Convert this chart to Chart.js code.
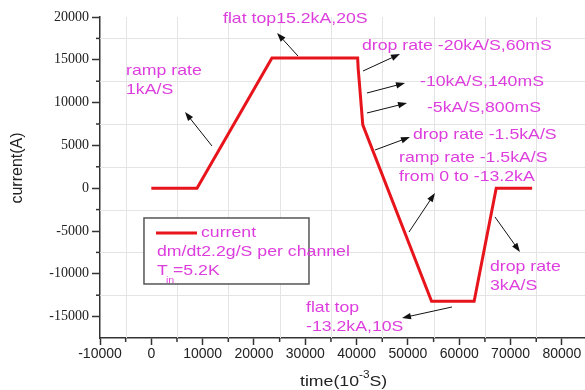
<!DOCTYPE html>
<html><head><meta charset="utf-8">
<script src="https://cdn.jsdelivr.net/npm/chart.js@4/dist/chart.umd.min.js"></script>
<style>html,body{margin:0;padding:0;background:#fff;}</style>
</head><body>
<canvas id="c" width="585" height="390"></canvas>
<script>
// ---- data ----
const timeMs   = [0, 8900, 23500, 40200, 40300, 40500, 41200, 54600, 62900, 67200, 74200];
const currentA = [0, 0, 15200, 15200, 14000, 12600, 7400, -13200, -13200, 0, 0];
const xTicks = [-10000, 0, 10000, 20000, 30000, 40000, 50000, 60000, 70000, 80000];
const yTicks = [-15000, -10000, -5000, 0, 5000, 10000, 15000, 20000];
const xMinor = [-5000, 5000, 15000, 25000, 35000, 45000, 55000, 65000, 75000];
const yMinor = [-12500, -7500, -2500, 2500, 7500, 12500, 17500];

// annotation texts (data coordinates of left/middle)
const notes = [
  ['flat top15.2kA,20S', 13970, 19770],
  ['drop rate -20kA/S,60mS', 41050, 16610],
  ['-10kA/S,140mS', 52350, 12400],
  ['-5kA/S,800mS', 53710, 9370],
  ['drop rate -1.5kA/S', 50980, 6215],
  ['ramp rate -1.5kA/S', 48260, 3530],
  ['from 0 to -13.2kA', 48260, 1310],
  ['drop rate', 65990, -9205],
  ['3kA/S', 65990, -11425],
  ['flat top', 30140, -13995],
  ['-13.2kA,10S', 30140, -16215],
  ['ramp rate', -4930, 13690],
  ['1kA/S', -4930, 11470]
];
// arrows: tail x,y -> head x,y (data coordinates)
const arrows = [
  [28580, 15440, 24490, 18130],
  [41240, 13690, 48450, 15680],
  [42020, 11120, 49430, 12290],
  [42020, 8785, 49820, 9950],
  [43580, 4460, 50400, 5980],
  [50210, -5120, 55270, -560],
  [66960, -3360, 71830, -7450],
  [58580, -13880, 48840, -15160],
  [11820, 4930, 6560, 8900]
];
const legendBox = [-1430, -3480, 30720, -11190];

const MAG = '#dd3ddd';
const SX = 1.18;
function txt(ctx, s, px, py, size, color){
  ctx.save(); ctx.translate(px, py); ctx.scale(SX, 1);
  ctx.font = size + 'px "Liberation Sans", Arial, sans-serif';
  ctx.textBaseline = 'middle'; ctx.textAlign = 'left';
  ctx.fillStyle = color; ctx.fillText(s, 0, 0);
  const w = ctx.measureText(s).width * SX;
  ctx.restore();
  return w;
}
function arrow(ctx, x1, y1, x2, y2){
  const ang = Math.atan2(y2 - y1, x2 - x1), L = 9, H = 3.2;
  ctx.save(); ctx.strokeStyle = '#111'; ctx.fillStyle = '#111'; ctx.lineWidth = 1;
  ctx.beginPath(); ctx.moveTo(x1, y1);
  ctx.lineTo(x2 - Math.cos(ang) * L * 0.8, y2 - Math.sin(ang) * L * 0.8); ctx.stroke();
  ctx.beginPath(); ctx.moveTo(x2, y2);
  ctx.lineTo(x2 - Math.cos(ang) * L + Math.sin(ang) * H, y2 - Math.sin(ang) * L - Math.cos(ang) * H);
  ctx.lineTo(x2 - Math.cos(ang) * L - Math.sin(ang) * H, y2 - Math.sin(ang) * L + Math.cos(ang) * H);
  ctx.closePath(); ctx.fill(); ctx.restore();
}

const decor = {
  id: 'decor',
  beforeDatasetsDraw(chart){
    const {ctx, chartArea: a, scales: {x, y}} = chart;
    ctx.save();
    ctx.strokeStyle = '#e4e4e4'; ctx.lineWidth = 1;
    xMinor.forEach(v => { const p = Math.round(x.getPixelForValue(v)) + 0.5;
      ctx.beginPath(); ctx.moveTo(p, a.top); ctx.lineTo(p, a.bottom); ctx.stroke(); });
    yMinor.forEach(v => { const p = Math.round(y.getPixelForValue(v)) + 0.5;
      ctx.beginPath(); ctx.moveTo(a.left, p); ctx.lineTo(a.right, p); ctx.stroke(); });
    // minor ticks
    ctx.strokeStyle = '#333'; ctx.lineWidth = 1.5;
    xMinor.forEach(v => { const p = x.getPixelForValue(v);
      ctx.beginPath(); ctx.moveTo(p, a.bottom); ctx.lineTo(p, a.bottom + 4); ctx.stroke(); });
    yMinor.forEach(v => { const p = y.getPixelForValue(v);
      ctx.beginPath(); ctx.moveTo(a.left, p); ctx.lineTo(a.left - 4, p); ctx.stroke(); });
    ctx.restore();
  },
  afterDatasetsDraw(chart){
    const {ctx, chartArea: a, scales: {x, y}} = chart;
    notes.forEach(n => txt(ctx, n[0], x.getPixelForValue(n[1]), y.getPixelForValue(n[2]), 15, MAG));
    arrows.forEach(r => arrow(ctx, x.getPixelForValue(r[0]), y.getPixelForValue(r[1]),
                                   x.getPixelForValue(r[2]), y.getPixelForValue(r[3])));
    // legend box
    const bx1 = x.getPixelForValue(legendBox[0]), by1 = y.getPixelForValue(legendBox[1]);
    const bx2 = x.getPixelForValue(legendBox[2]), by2 = y.getPixelForValue(legendBox[3]);
    ctx.save();
    ctx.fillStyle = '#fff'; ctx.fillRect(bx1, by1, bx2 - bx1, by2 - by1);
    ctx.strokeStyle = '#555'; ctx.lineWidth = 1.5; ctx.strokeRect(bx1, by1, bx2 - bx1, by2 - by1);
    ctx.strokeStyle = chart.data.datasets[0].borderColor; ctx.lineWidth = 3;
    ctx.beginPath(); ctx.moveTo(bx1 + 12, by1 + 15); ctx.lineTo(bx1 + 53, by1 + 15); ctx.stroke();
    ctx.restore();
    txt(ctx, chart.data.datasets[0].label, bx1 + 57, by1 + 15, 15, MAG);
    txt(ctx, 'dm/dt2.2g/S per channel', bx1 + 13, by1 + 34, 15, MAG);
    txt(ctx, 'T', bx1 + 13, by1 + 53, 15, MAG);
    txt(ctx, 'in', bx1 + 22, by1 + 63, 9, MAG);
    txt(ctx, '=5.2K', bx1 + 29, by1 + 53, 15, MAG);
    // axis titles
    ctx.save();
    ctx.translate(18, 168); ctx.rotate(-Math.PI / 2);
    ctx.font = '16px "Liberation Sans", Arial, sans-serif';
    ctx.fillStyle = '#222'; ctx.textAlign = 'center'; ctx.textBaseline = 'middle';
    ctx.fillText('current(A)', 0, 0);
    ctx.restore();
    let px = 300;
    px += txt(ctx, 'time(10', px, 382, 15, '#222');
    px += txt(ctx, '-3', px, 375, 10, '#222');
    txt(ctx, 'S)', px, 382, 15, '#222');
  }
};

new Chart(document.getElementById('c'), {
  type: 'scatter',
  data: { datasets: [{
    label: 'current',
    data: timeMs.map((t, i) => ({x: t, y: currentA[i]})),
    showLine: true, borderColor: '#e8141c', borderWidth: 3,
    pointRadius: 0, tension: 0, fill: false
  }]},
  options: {
    responsive: false, animation: false,
    layout: { padding: { top: 17, right: 0, left: 0, bottom: 0 } },
    plugins: { legend: { display: false }, tooltip: { enabled: false } },
    scales: {
      x: {
        type: 'linear', min: -10000, max: 84500,
        afterBuildTicks: s => { s.ticks = xTicks.map(v => ({value: v})); },
        afterFit: s => { s.height = 52; },
        ticks: { font: { family: '"Liberation Sans", Arial', size: 14 }, color: '#222',
                 padding: 1, maxRotation: 0, autoSkip: false, callback: v => String(v) },
        grid: { drawOnChartArea: false, tickLength: 7, tickColor: '#333', tickWidth: 1.5 },
        border: { color: '#333', width: 1.5 }
      },
      y: {
        type: 'linear', min: -17500, max: 20000,
        afterBuildTicks: s => { s.ticks = yTicks.map(v => ({value: v})); },
        afterFit: s => { s.width = 100; },
        ticks: { font: { family: '"Liberation Serif", "Times New Roman", serif', size: 14 }, color: '#222',
                 padding: 3, autoSkip: false, callback: v => String(v) },
        grid: { drawOnChartArea: false, tickLength: 8, tickColor: '#333', tickWidth: 1.5 },
        border: { color: '#333', width: 1.5 }
      }
    }
  },
  plugins: [decor]
});
</script>
</body></html>
